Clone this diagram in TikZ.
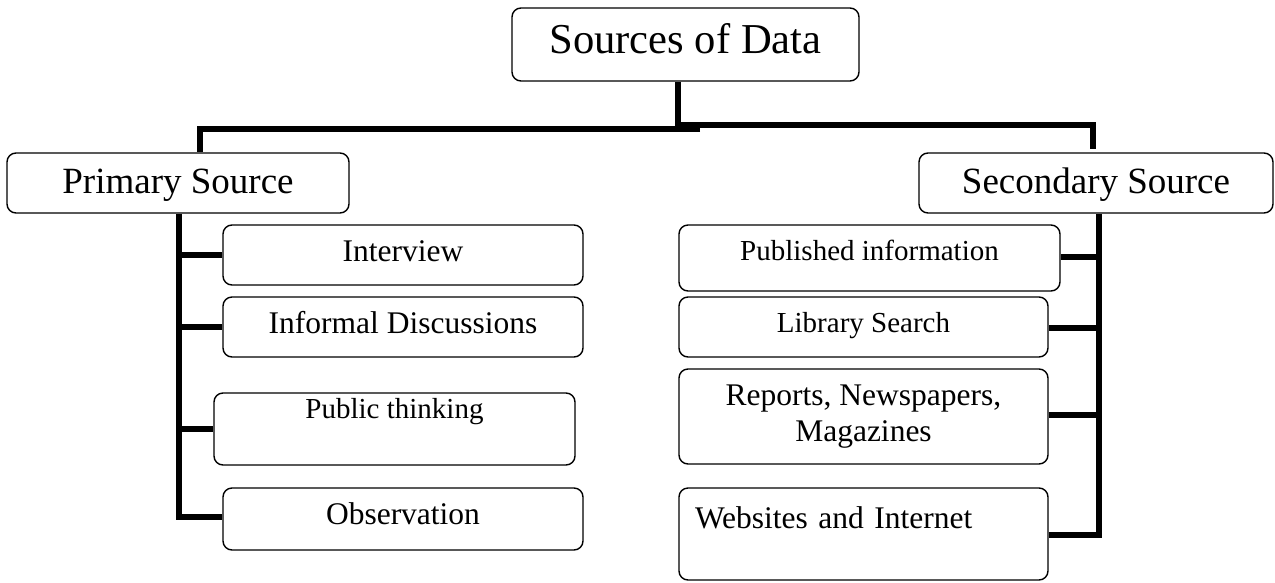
\documentclass[tikz,border=0pt]{standalone}
\usepackage{fontspec}
\setmainfont{Liberation Serif}
\newcommand\fTop{\fontsize{42.6pt}{49pt}\selectfont}
\newcommand\fMid{\fontsize{37pt}{43pt}\selectfont}
\newcommand\fSub{\fontsize{31.5pt}{36pt}\selectfont}
\newcommand\fSm{\fontsize{29pt}{34pt}\selectfont}
\tikzset{
  box/.style={draw, line width=1.4pt, rounded corners=9pt, inner sep=0pt, align=center, fill=white},
  conn/.style={line width=5.5pt, line join=miter, line cap=butt},
}
\begin{document}
\begin{tikzpicture}[x=1pt,y=1pt]
\useasboundingbox (0,0) rectangle (1275,-582);
% boxes
\node[box, font=\fTop, minimum width=347pt, minimum height=73pt, text height=17pt, text depth=0pt] (T) at (685.5,-44.5) {Sources of Data};
\node[box, font=\fMid, minimum width=342pt, minimum height=60pt, text height=20pt, text depth=0pt] (P) at (178,-183) {Primary Source};
\node[box, font=\fMid, minimum width=354pt, minimum height=60pt, text height=20pt, text depth=0pt] (S) at (1096,-183) {Secondary Source};
% primary children
\node[box, font=\fSub, minimum width=360pt, minimum height=60pt, text height=12pt, text depth=0pt] (I) at (403,-255) {Interview};
\node[box, font=\fSub, minimum width=360pt, minimum height=60pt, text height=12pt, text depth=0pt] (D) at (403,-327) {Informal Discussions};
\node[box, font=\fSm, minimum width=361pt, minimum height=72pt, text height=0pt, text depth=22pt] (U) at (394.5,-429) {Public thinking};
\node[box, font=\fSub, minimum width=360pt, minimum height=62pt, text height=10pt, text depth=0pt] (O) at (403,-519) {Observation};
% secondary children
\node[box, font=\fSm, minimum width=381pt, minimum height=66pt, text height=4pt, text depth=0pt] (Pub) at (869.5,-258) {Published information};
\node[box, font=\fSm, minimum width=369pt, minimum height=60pt, text height=10pt, text depth=0pt] (L) at (863.5,-327) {Library Search};
\node[box, font=\fSub, minimum width=369pt, minimum height=95pt] (R) at (863.5,-416.5) {Reports, Newspapers,\\Magazines};
\node[box, font=\fSub, minimum width=369pt, minimum height=92pt, text width=337pt, inner xsep=16pt, align=left, text height=0pt, text depth=12pt] (W) at (863.5,-534) {Websites and Internet};
% junction coordinates
\coordinate (hL) at (700,-129);
\coordinate (cL) at (200,-129);
\coordinate (hR) at (678,-125);
\coordinate (cR) at (1093,-125);
\coordinate (eR) at (1093,-149);
\coordinate (tL) at (179,-517);
\coordinate (tR) at (1099,-535);
\coordinate (bI) at (179,-255);
\coordinate (bD) at (179,-327);
\coordinate (bU) at (179,-429);
\coordinate (bPub) at (1099,-257);
\coordinate (bL) at (1099,-328);
\coordinate (bR) at (1099,-415);
% connectors
\draw[conn] (T.south -| hR) -- (hR |- hL);
\draw[conn] (hL) -- (cL) -- (P.north -| cL);
\draw[conn] (hR) -- (cR) -- (eR);
\draw[conn] (P.south -| tL) -- (tL) -- (O.west |- tL);
\draw[conn] (bI) -- (I.west |- bI);
\draw[conn] (bD) -- (D.west |- bD);
\draw[conn] (bU) -- (U.west |- bU);
\draw[conn] (S.south -| tR) -- (tR) -- (W.east |- tR);
\draw[conn] (bPub) -- (Pub.east |- bPub);
\draw[conn] (bL) -- (L.east |- bL);
\draw[conn] (bR) -- (R.east |- bR);
\end{tikzpicture}
\end{document}
